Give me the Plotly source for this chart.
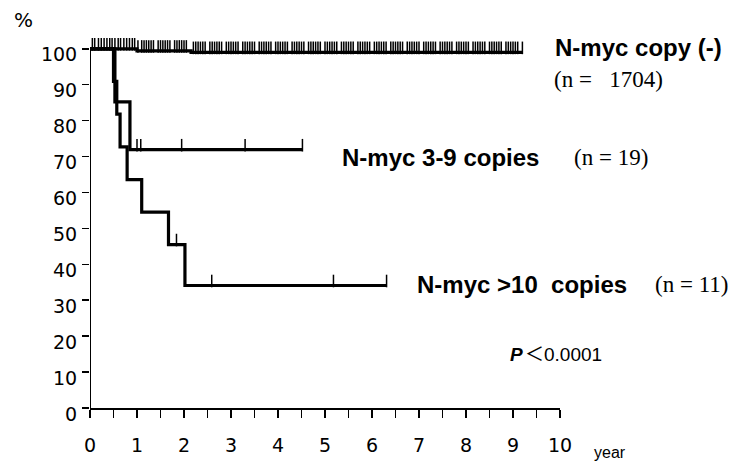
import plotly.graph_objects as go

# ---- data ----
neg_t = [0, 1.00, 2.15, 9.20]
neg_s = [100, 99.4, 99.0, 99.0]
neg_cens = [0.05, 0.10, 0.18, 0.24, 0.30, 0.36, 0.42, 0.47, 0.53, 0.60, 0.65, 0.72, 0.78, 0.84, 0.90, 0.95,
            1.02, 1.10, 1.15, 1.20, 1.25, 1.30, 1.35, 1.45, 1.50, 1.55, 1.60, 1.65, 1.70, 1.80, 1.85, 1.90, 1.95, 2.00, 2.05,
            2.20, 2.25, 2.30, 2.35, 2.40, 2.45, 2.55, 2.60, 2.65, 2.70, 2.75, 2.80, 2.90, 2.95, 3.00, 3.05, 3.10, 3.15,
            3.25, 3.30, 3.35, 3.40, 3.45, 3.50, 3.60, 3.65, 3.70, 3.75, 3.80, 3.85, 3.95, 4.00, 4.05, 4.10, 4.15, 4.20,
            4.30, 4.35, 4.40, 4.45, 4.50, 4.55, 4.65, 4.70, 4.75, 4.80, 4.85, 4.90, 5.00, 5.05, 5.10, 5.15, 5.20, 5.25,
            5.35, 5.40, 5.45, 5.50, 5.55, 5.60, 5.70, 5.75, 5.80, 5.85, 5.90, 5.95, 6.05, 6.10, 6.15, 6.20, 6.25, 6.30,
            6.40, 6.45, 6.50, 6.55, 6.60, 6.65, 6.75, 6.80, 6.85, 6.90, 6.95, 7.00, 7.10, 7.15, 7.20, 7.25, 7.30, 7.35,
            7.45, 7.50, 7.55, 7.60, 7.65, 7.70, 7.80, 7.85, 7.90, 7.95, 8.00, 8.05, 8.15, 8.20, 8.25, 8.30, 8.35, 8.40,
            8.50, 8.55, 8.60, 8.65, 8.70, 8.75, 8.85, 8.90, 8.95, 9.00, 9.05, 9.10, 9.20]

mid_t = [0, 0.53, 0.85, 4.52]
mid_s = [100, 85.2, 71.9, 71.9]
mid_cens = [1.00, 1.08, 1.95, 3.30, 4.52]

hi_t = [0, 0.50, 0.57, 0.64, 0.79, 1.10, 1.67, 2.02, 6.31]
hi_s = [100, 90.9, 81.8, 72.7, 63.6, 54.5, 45.5, 34.1, 34.1]
hi_cens = [1.84, 2.59, 5.18, 6.31]

x_ticks = list(range(0, 11))
y_ticks = list(range(0, 101, 10))


def surv_at(ts, ss, t):
    v = ss[0]
    for ti, si in zip(ts, ss):
        if t >= ti:
            v = si
    return v


W, H = 739, 465
L, R, T, B = 90, 179, 38, 57
Y_TOP = 103
pw, ph = W - L - R, H - T - B
PX_PER_UNIT = ph / Y_TOP
MARK = 9
up = (MARK / 2.0) / PX_PER_UNIT

fig = go.Figure()
for ts, ss, cens in [(neg_t, neg_s, neg_cens), (mid_t, mid_s, mid_cens), (hi_t, hi_s, hi_cens)]:
    fig.add_trace(go.Scatter(x=ts, y=ss, mode="lines", line=dict(shape="hv", color="black", width=3.2),
                             cliponaxis=False, showlegend=False, hoverinfo="skip"))
    fig.add_trace(go.Scatter(x=cens, y=[surv_at(ts, ss, c) + up for c in cens], mode="markers",
                             marker=dict(symbol="line-ns", size=MARK, line=dict(width=1.5, color="black")),
                             cliponaxis=False, showlegend=False, hoverinfo="skip"))

# y axis line only up to 100 %
fig.add_shape(type="line", xref="x", yref="y", x0=0, x1=0, y0=0, y1=y_ticks[-1] + 0.4,
              line=dict(color="black", width=2))

tickfont = dict(family="DejaVu Sans", size=19, color="black")
fig.update_xaxes(range=[0, 10], tickvals=x_ticks, ticktext=[str(v) for v in x_ticks], automargin=False,
                 showline=True, linecolor="black", linewidth=2, showgrid=False, zeroline=False,
                 ticks="outside", ticklen=8, tickwidth=1.5, tickcolor="black", tickfont=tickfont,
                 ticklabelstandoff=11,
                 minor=dict(dtick=0.5, ticks="outside", ticklen=8, tickwidth=1.5, tickcolor="black", showgrid=False))
fig.update_yaxes(range=[0, Y_TOP], tickvals=y_ticks, ticktext=[str(v) for v in y_ticks], automargin=False,
                 showline=False, showgrid=False, zeroline=False,
                 ticks="outside", ticklen=7, tickwidth=1.5, tickcolor="black", tickfont=tickfont,
                 ticklabelstandoff=1, ticklabelshift=6)

bold = dict(family="Liberation Sans", size=24, color="black", weight="bold")
serif = dict(family="Liberation Serif", size=23, color="black")
ann = [
    dict(x=553, y=48, text="N-myc copy (-)", font=bold),
    dict(x=552, y=80, text="(n\u00a0=\u00a0\u00a0 1704)", font=serif),
    dict(x=340, y=157, text="N-myc 3-9 copies", font=bold),
    dict(x=572, y=157, text="(n\u00a0=\u00a019)", font=serif),
    dict(x=415, y=284, text="N-myc >10\u00a0 copies", font=bold),
    dict(x=653, y=284, text="(n\u00a0=\u00a011)", font=serif),
    dict(x=508, y=354, text="<b><i>P</i></b>", font=dict(family="Liberation Sans", size=19, color="black")),
    dict(x=523, y=354, text="\uff1c0.0001", font=dict(family="Liberation Sans, Noto Sans CJK JP", size=19, color="black")),
    dict(x=592, y=452, text="year", font=dict(family="Liberation Sans Narrow, Liberation Sans", size=16, color="black")),
    dict(x=12, y=20, text="%", font=dict(family="DejaVu Sans", size=20, color="black")),
]
for a in ann:
    fig.add_annotation(x=(a["x"] - L) / pw, y=(H - B - a["y"]) / ph, xref="paper", yref="paper",
                       text=a["text"], font=a["font"], showarrow=False, xanchor="left", yanchor="middle")

fig.update_layout(width=W, height=H, margin=dict(l=L, r=R, t=T, b=B),
                  plot_bgcolor="white", paper_bgcolor="white")
fig.write_html("out.html", config={"displayModeBar": False, "staticPlot": True},
               post_script="document.body.style.margin='0';document.body.style.overflow='hidden';")
